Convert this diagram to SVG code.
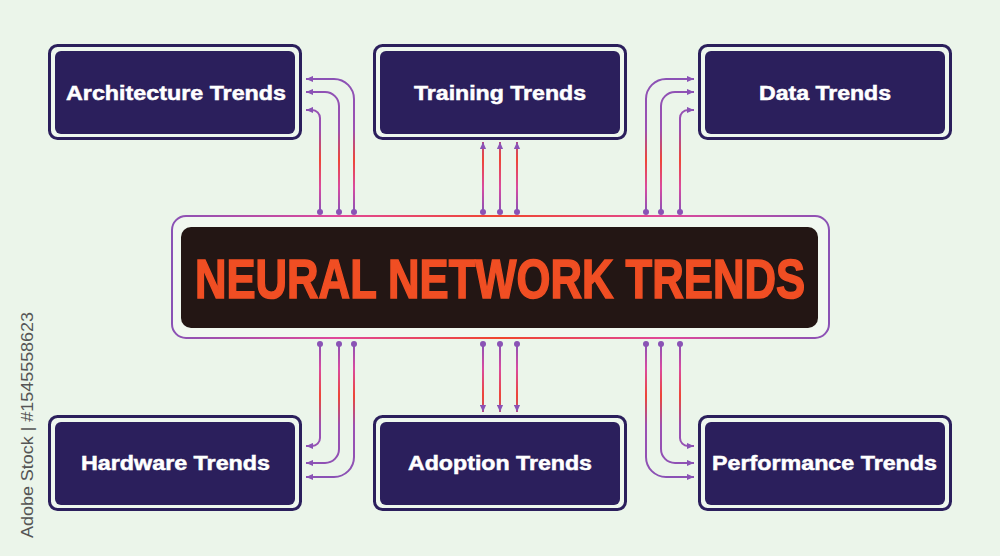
<svg xmlns="http://www.w3.org/2000/svg" width="1000" height="556" viewBox="0 0 1000 556">
  <defs>
    <style>
      .outer { fill: #eef7ee; stroke: #2b1f5c; stroke-width: 3; }
      .inner { fill: #2b1f5c; }
      .label { font-family: "Liberation Sans", Arial, sans-serif; font-weight: 700; font-size: 20px; fill: #ffffff; stroke: #ffffff; stroke-width: 0.5; text-anchor: middle; }
      .title { font-family: "Liberation Sans", Arial, sans-serif; font-weight: 700; font-size: 56px; fill: #f04e23; stroke: #f04e23; stroke-width: 1.6; text-anchor: middle; }
      .up { fill: none; stroke: url(#gUp); stroke-width: 2; }
      .down { fill: none; stroke: url(#gDown); stroke-width: 2; }
      .dot { fill: #8a52b5; }
      .wm { font-family: "Liberation Sans", Arial, sans-serif; font-size: 16px; fill: #555555; text-anchor: middle; }
    </style>
    <linearGradient id="gUp" gradientUnits="userSpaceOnUse" x1="0" y1="75" x2="0" y2="212">
      <stop offset="0" stop-color="#8a52b5"/>
      <stop offset="0.4" stop-color="#9c50b2"/>
      <stop offset="0.62" stop-color="#ee4637"/>
      <stop offset="0.82" stop-color="#d94aa0"/>
      <stop offset="1" stop-color="#8a52b5"/>
    </linearGradient>
    <linearGradient id="gDown" gradientUnits="userSpaceOnUse" x1="0" y1="344" x2="0" y2="480">
      <stop offset="0" stop-color="#8a52b5"/>
      <stop offset="0.18" stop-color="#d94aa0"/>
      <stop offset="0.38" stop-color="#ee4637"/>
      <stop offset="0.6" stop-color="#9c50b2"/>
      <stop offset="1" stop-color="#8a52b5"/>
    </linearGradient>
    <linearGradient id="gCenter" gradientUnits="userSpaceOnUse" x1="172" y1="0" x2="829" y2="0">
      <stop offset="0" stop-color="#8a52b5"/>
      <stop offset="0.25" stop-color="#e0489a"/>
      <stop offset="0.5" stop-color="#f0452e"/>
      <stop offset="0.75" stop-color="#e0489a"/>
      <stop offset="1" stop-color="#8a52b5"/>
    </linearGradient>
    <marker id="arr" viewBox="0 0 8 8" refX="8" refY="4" markerWidth="7" markerHeight="7" markerUnits="userSpaceOnUse" orient="auto">
      <path d="M0,0.5 L8,4 L0,7.5 Z" fill="#8a52b5"/>
    </marker>
  </defs>

  <rect x="0" y="0" width="1000" height="556" fill="#ebf5ea"/>

  <g id="center">
    <rect x="172" y="216" width="657" height="122" rx="14" fill="#f1f8f0" stroke="url(#gCenter)" stroke-width="2"/>
    <rect x="181" y="227" width="637" height="101" rx="10" fill="#231614"/>
    <text class="title" x="500" y="298" textLength="610" lengthAdjust="spacingAndGlyphs">NEURAL NETWORK TRENDS</text>
  </g>

  <g id="architecture">
    <rect class="outer" x="49.5" y="45.5" width="251" height="93" rx="8"/>
    <rect class="inner" x="55" y="51" width="240" height="83" rx="6"/>
    <text class="label" x="176" y="100" textLength="220" lengthAdjust="spacingAndGlyphs">Architecture Trends</text>
  </g>
  <g id="training">
    <rect class="outer" x="374.5" y="45.5" width="251" height="93" rx="8"/>
    <rect class="inner" x="380" y="51" width="240" height="83" rx="6"/>
    <text class="label" x="500" y="100" textLength="172" lengthAdjust="spacingAndGlyphs">Training Trends</text>
  </g>
  <g id="data">
    <rect class="outer" x="699.5" y="45.5" width="251" height="93" rx="8"/>
    <rect class="inner" x="705" y="51" width="240" height="83" rx="6"/>
    <text class="label" x="825" y="100" textLength="132" lengthAdjust="spacingAndGlyphs">Data Trends</text>
  </g>
  <g id="hardware">
    <rect class="outer" x="49.5" y="416.5" width="251" height="93" rx="8"/>
    <rect class="inner" x="55" y="422" width="240" height="83" rx="6"/>
    <text class="label" x="175.5" y="470" textLength="189" lengthAdjust="spacingAndGlyphs">Hardware Trends</text>
  </g>
  <g id="adoption">
    <rect class="outer" x="374.5" y="416.5" width="251" height="93" rx="8"/>
    <rect class="inner" x="380" y="422" width="240" height="83" rx="6"/>
    <text class="label" x="500" y="470" textLength="184" lengthAdjust="spacingAndGlyphs">Adoption Trends</text>
  </g>
  <g id="performance">
    <rect class="outer" x="699.5" y="416.5" width="251" height="93" rx="8"/>
    <rect class="inner" x="705" y="422" width="240" height="83" rx="6"/>
    <text class="label" x="824.5" y="470" textLength="225" lengthAdjust="spacingAndGlyphs">Performance Trends</text>
  </g>

  <g id="connectors">
    <path class="up" d="M354,212 V99 A20,20 0 0 0 334,79 H306" marker-end="url(#arr)"/>
    <path class="up" d="M339,212 V106 A14,14 0 0 0 325,92 H306" marker-end="url(#arr)"/>
    <path class="up" d="M320,212 V118 A8,8 0 0 0 312,110 H306" marker-end="url(#arr)"/>
    <path class="up" d="M483,212 V142" marker-end="url(#arr)"/>
    <path class="up" d="M500,212 V142" marker-end="url(#arr)"/>
    <path class="up" d="M517,212 V142" marker-end="url(#arr)"/>
    <path class="up" d="M646,212 V99 A20,20 0 0 1 666,79 H694" marker-end="url(#arr)"/>
    <path class="up" d="M661,212 V106 A14,14 0 0 1 675,92 H694" marker-end="url(#arr)"/>
    <path class="up" d="M680,212 V118 A8,8 0 0 1 688,110 H694" marker-end="url(#arr)"/>
    <path class="down" d="M320,344 V438 A8,8 0 0 1 312,446 H306" marker-end="url(#arr)"/>
    <path class="down" d="M339,344 V449 A14,14 0 0 1 325,463 H306" marker-end="url(#arr)"/>
    <path class="down" d="M354,344 V457 A20,20 0 0 1 334,477 H306" marker-end="url(#arr)"/>
    <path class="down" d="M483,344 V412" marker-end="url(#arr)"/>
    <path class="down" d="M500,344 V412" marker-end="url(#arr)"/>
    <path class="down" d="M517,344 V412" marker-end="url(#arr)"/>
    <path class="down" d="M680,344 V438 A8,8 0 0 0 688,446 H694" marker-end="url(#arr)"/>
    <path class="down" d="M661,344 V449 A14,14 0 0 0 675,463 H694" marker-end="url(#arr)"/>
    <path class="down" d="M646,344 V457 A20,20 0 0 0 666,477 H694" marker-end="url(#arr)"/>
    <circle class="dot" cx="320" cy="212" r="3"/><circle class="dot" cx="339" cy="212" r="3"/><circle class="dot" cx="354" cy="212" r="3"/>
    <circle class="dot" cx="483" cy="212" r="3"/><circle class="dot" cx="500" cy="212" r="3"/><circle class="dot" cx="517" cy="212" r="3"/>
    <circle class="dot" cx="646" cy="212" r="3"/><circle class="dot" cx="661" cy="212" r="3"/><circle class="dot" cx="680" cy="212" r="3"/>
    <circle class="dot" cx="320" cy="344" r="3"/><circle class="dot" cx="339" cy="344" r="3"/><circle class="dot" cx="354" cy="344" r="3"/>
    <circle class="dot" cx="483" cy="344" r="3"/><circle class="dot" cx="500" cy="344" r="3"/><circle class="dot" cx="517" cy="344" r="3"/>
    <circle class="dot" cx="646" cy="344" r="3"/><circle class="dot" cx="661" cy="344" r="3"/><circle class="dot" cx="680" cy="344" r="3"/>
  </g>

  <text class="wm" transform="translate(33,425) rotate(-90)" textLength="226" lengthAdjust="spacingAndGlyphs">Adobe Stock | #1545558623</text>
</svg>
